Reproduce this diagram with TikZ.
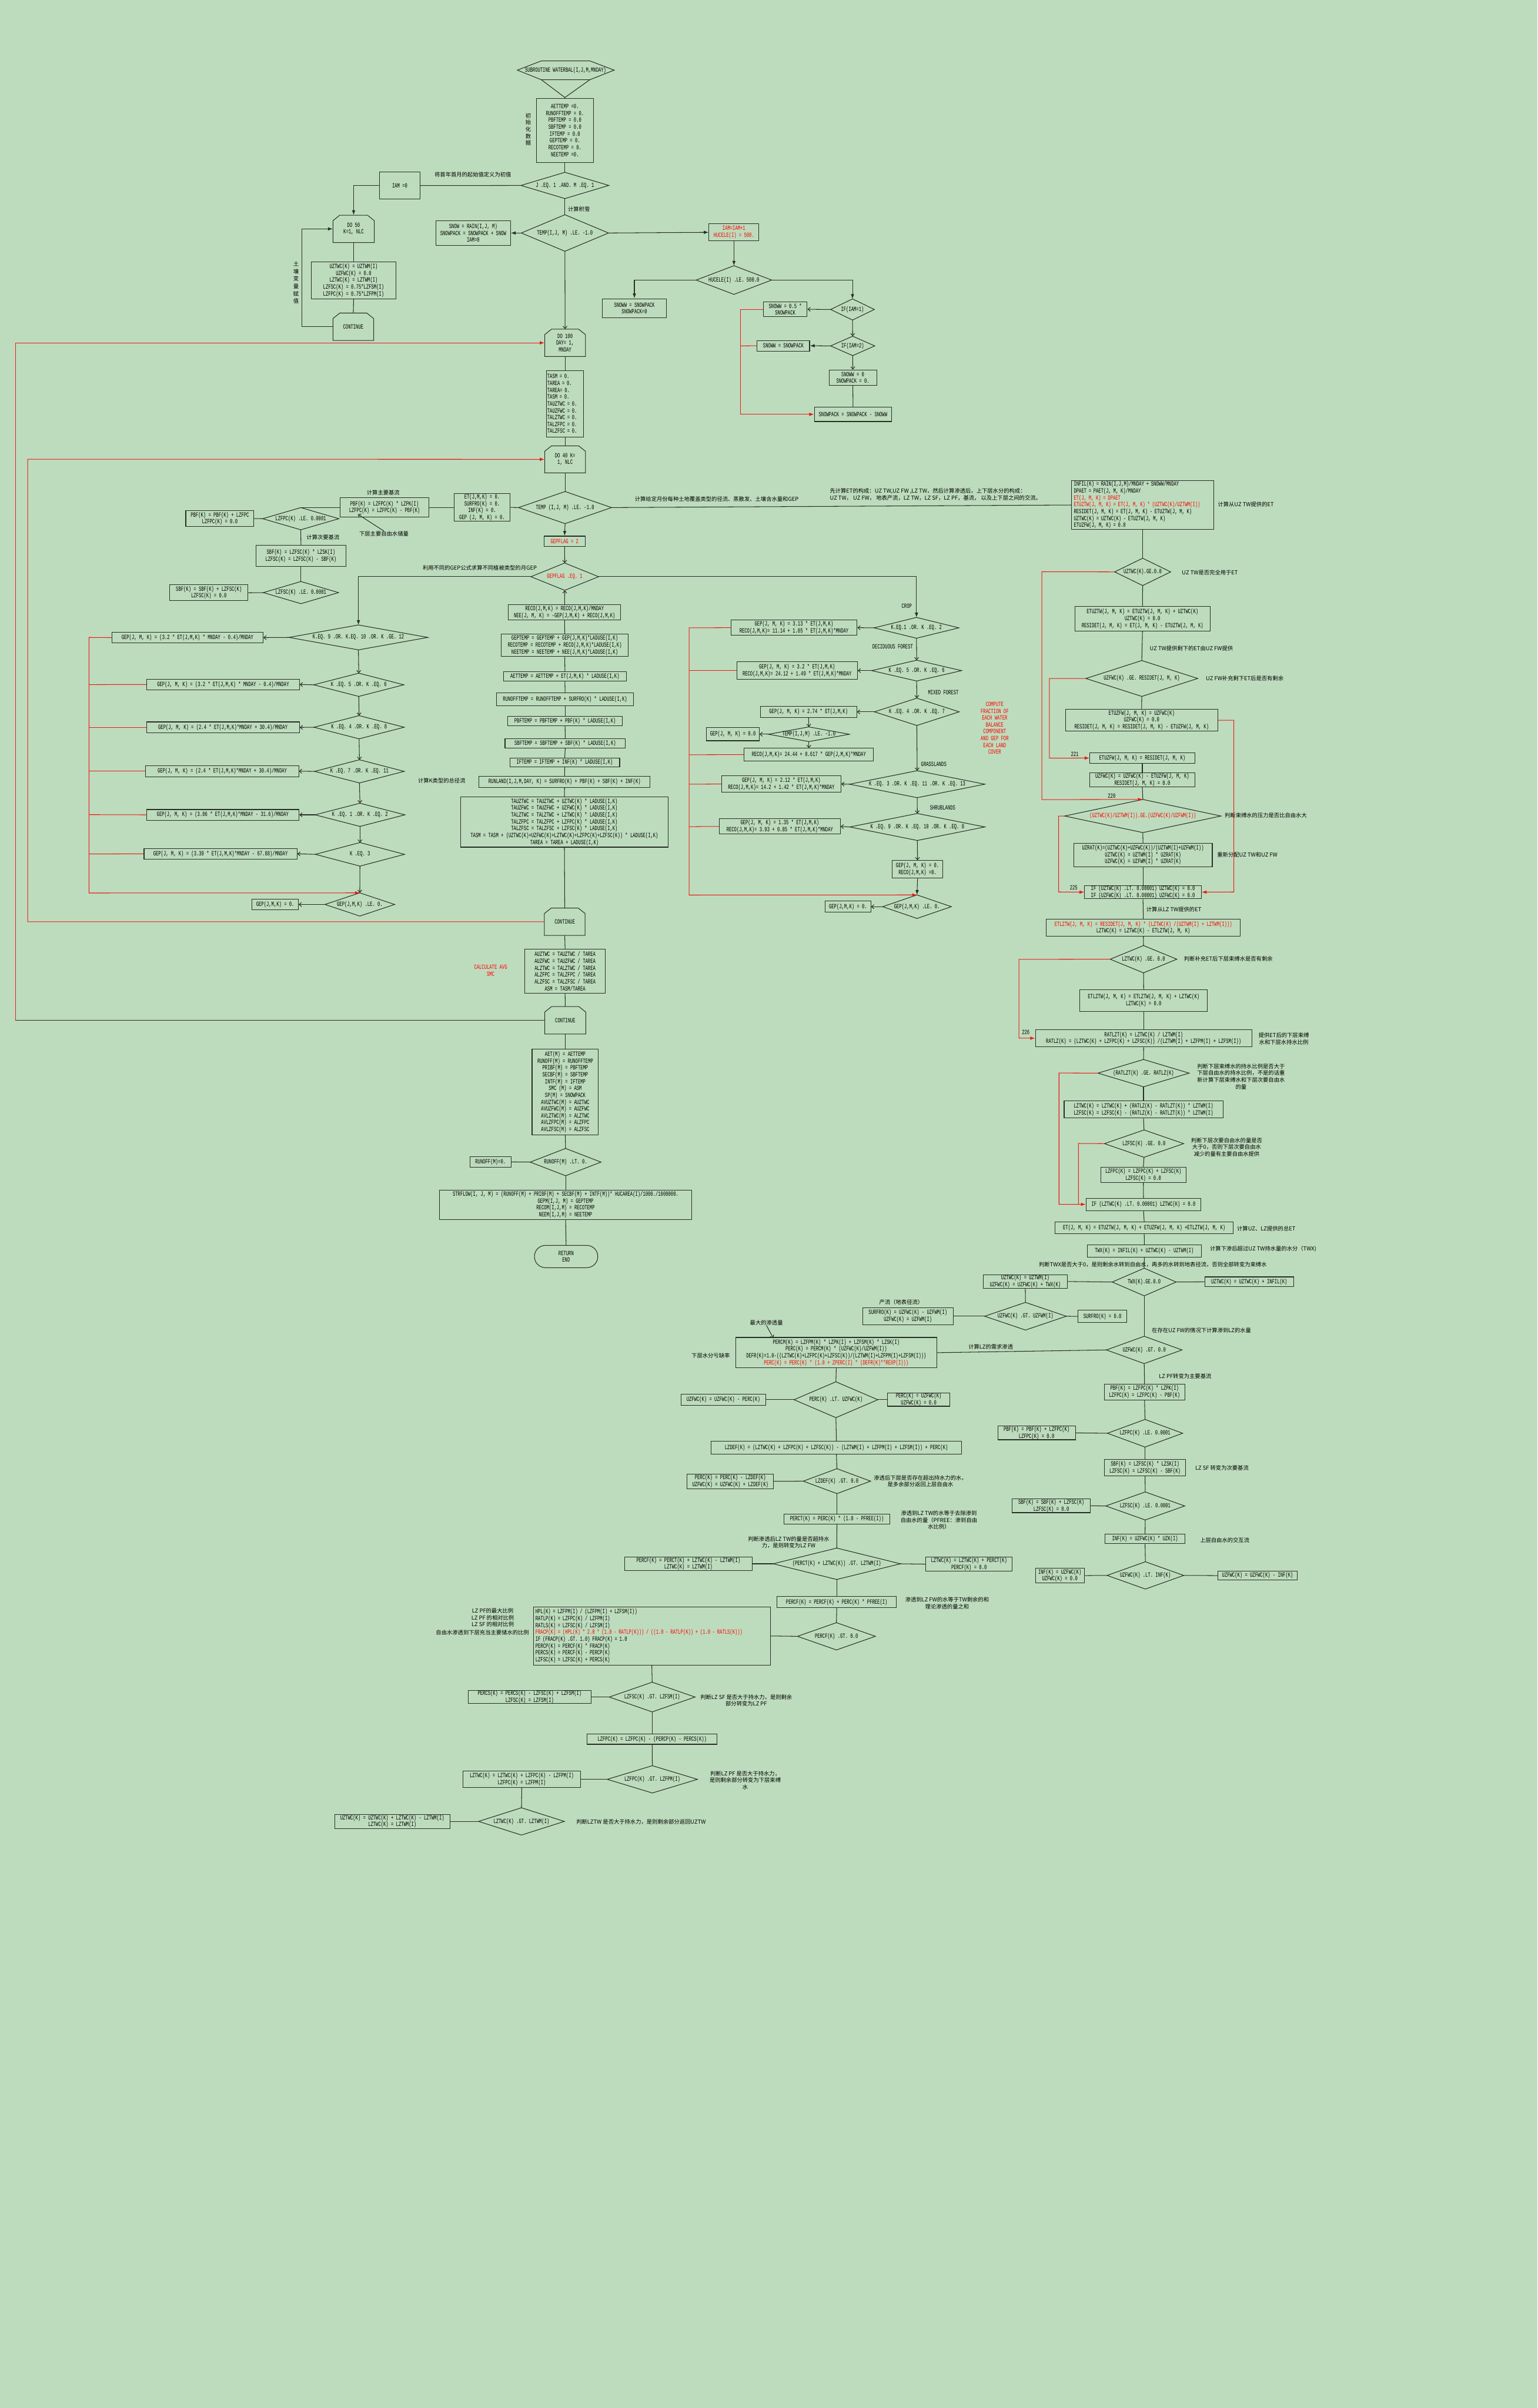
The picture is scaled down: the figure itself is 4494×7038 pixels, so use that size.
\documentclass[tikz,border=0pt]{standalone}
\usepackage{fontspec}
\newfontfamily\cmono[FakeStretch=0.65]{Liberation Mono}
\newfontfamily\cjk{Noto Sans CJK SC}
\usetikzlibrary{arrows.meta}
\definecolor{bg}{RGB}{189,220,189}
\definecolor{lc}{RGB}{40,45,40}
\definecolor{rc}{RGB}{235,25,25}
\definecolor{rt}{RGB}{255,0,0}
\tikzset{
 bxs/.style={draw=lc,line width=0.9pt,inner sep=0pt,align=center,font=\cmono\fontsize{9.5}{10}\selectfont},
 dts/.style={inner sep=0pt,align=center,font=\cmono\fontsize{9.5}{10}\selectfont},
 shp/.style={draw=lc,line width=0.9pt},
 ln/.style={draw=lc,line width=0.9pt},
 rl/.style={draw=rc,line width=0.9pt},
 fa/.style={-{Latex[length=7pt,width=5pt]}},
 oa/.style={-{Straight Barb[length=3.5pt,width=6pt]}},
 cjkl/.style={inner sep=0pt,font=\cjk\fontsize{8}{10}\selectfont,align=center},
 monot/.style={inner sep=0pt,font=\cmono\fontsize{9.5}{10}\selectfont,align=center},
 rtxt/.style={text=rt}
}
\newcommand\mybox[7][]{\node[bxs,minimum width={(#5-#3)*0.5pt},minimum height={(#6-#4)*0.5pt},#1] (#2) at ({(#3+#5)/2},{(#4+#6)/2}) {#7};}
\newcommand\mydia[7][]{\node[dts,minimum width={(#5-#3)*0.5pt},minimum height={(#6-#4)*0.5pt},#1] (#2) at ({(#3+#5)/2},{(#4+#6)/2}) {#7};
 \draw[shp] (#2.north)--(#2.east)--(#2.south)--(#2.west)--cycle;}
\newcommand\myloop[6]{\node[dts,minimum width={(#4-#2)*0.5pt},minimum height={(#5-#3)*0.5pt}] (#1) at ({(#2+#4)/2},{(#3+#5)/2}) {#6};
 \draw[shp] (#2,#5)--(#2,#3+16)--(#2+20,#3)--(#4-20,#3)--(#4,#3+16)--(#4,#5)--cycle;}
\begin{document}
\begin{tikzpicture}[x=0.5pt,y=-0.5pt]
\useasboundingbox (0,0) rectangle (4494,7038);
\fill[bg] (0,0) rectangle (4494,7038);

% ---------- top ----------
\node[dts,minimum width=141.5pt,minimum height=27.5pt] (start) at (1653,205) {SUBROUTINE WATERBAL(I,J,M,MNDAY)};
\draw[shp] (1512,205)--(1582,178)--(1724,178)--(1795,205)--(1724,233)--(1582,233)--cycle;
\draw[shp] (1582,233)--(1651,285)--(1724,233);
\coordinate (tri) at (1651,285);
\mybox{init}{1568}{287}{1734}{475}{AETTEMP =0.\\RUNOFFTEMP = 0.\\PBFTEMP = 0.0\\SBFTEMP = 0.0\\IFTEMP = 0.0\\GEPTEMP = 0.\\RECOTEMP = 0.\\NEETEMP =0.}
\node[cjkl] (lbinit) at (1544,378) {初\\始\\化\\数\\据};
\mydia{d1}{1523}{504}{1779}{580}{J .EQ. 1 .AND. M .EQ. 1}
\mybox{iam}{1109}{503}{1228}{582}{IAM =0}
\node[cjkl] (lbfirst) at (1382,511) {将首年首月的起始值定义为初值};
\myloop{do50}{973}{629}{1094}{709}{DO 50\\K=1, NLC}
\mybox{uzinit}{910}{765}{1157}{874}{UZTWC(K) = UZTWM(I)\\UZFWC(K) = 0.0\\LZTWC(K) = LZTWM(I)\\LZFSC(K) = 0.75*LZFSM(I)\\LZFPC(K) = 0.75*LZFPM(I)}
\myloop{cont50}{973}{915}{1092}{995}{CONTINUE}
\node[cjkl,font=\cjk\fontsize{8}{10.8}\selectfont] (lbsoil) at (865,826) {土\\壤\\变\\量\\赋\\值};
\node[cjkl] (lbsnow) at (1692,611) {计算积雪};
\mydia{d2}{1524}{628}{1778}{734}{TEMP(I,J, M) .LE.  -1.0}
\mybox{snow}{1274}{645}{1492}{717}{SNOW = RAIN(I,J, M)\\SNOWPACK = SNOWPACK + SNOW\\IAM=0}
\mybox[rtxt]{iam1}{2072}{654}{2218}{704}{IAM=IAM+1\\HUCELE(I) = 500.}
\mydia{d3}{2035}{777}{2255}{860}{HUCELE(I) .LE. 500.0}
\mybox{sw1}{1760}{873}{1948}{929}{SNOWW = SNOWPACK\\SNOWPACK=0}
\mydia{d4}{2428}{874}{2555}{935}{IF(IAM=1)}
\mybox{sw2}{2231}{883}{2359}{925}{SNOWW = 0.5 *\\SNOWPACK}
\mydia{d5}{2428}{983}{2556}{1039}{IF(IAM=2)}
\mybox{sw3}{2213}{995}{2366}{1026}{SNOWW = SNOWPACK}
\mybox{sw4}{2423}{1081}{2562}{1126}{SNOWW = 0\\SNOWPACK = 0.}
\mybox{sw5}{2380}{1190}{2606}{1232}{SNOWPACK = SNOWPACK - SNOWW}

\myloop{do100}{1592}{962}{1711}{1042}{DO 100\\DAY= 1,\\MNDAY}
\mybox[align=left,text width=52pt]{tasm}{1597}{1083}{1706}{1277}{TASM = 0.\\TAREA = 0.\\TAREA= 0.\\TASM = 0.\\TAUZTWC = 0.\\TAUZFWC = 0.\\TALZTWC = 0.\\TALZFPC = 0.\\TALZFSC = 0.}
\myloop{do40}{1592}{1303}{1711}{1382}{DO 40 K=\\1, NLC}
\mydia{d6}{1516}{1437}{1787}{1530}{TEMP (I,J, M) .LE. -1.0}
\mybox{et0}{1327}{1443}{1491}{1523}{ET(J,M,K) = 0.\\SURFRO(K) = 0.\\INF(K) = 0.\\GEP (J, M, K) = 0.}
\mybox{pbf1}{994}{1455}{1254}{1511}{PBF(K) = LZFPC(K) * LZPK(I)\\LZFPC(K) = LZFPC(K) - PBF(K)}
\node[cjkl] (lbpbf) at (1120,1440) {计算主要基流};
\mydia{d7}{768}{1484}{990}{1548}{LZFPC(K) .LE. 0.0001}
\mybox{pbf2}{543}{1493}{742}{1538}{PBF(K) = PBF(K) + LZFPC\\LZFPC(K) = 0.0}
\node[cjkl] (lblzfp) at (1122,1560) {下层主要自由水储量};
\coordinate (alzfp) at (1046,1503);
\node[cjkl] (lbsbf) at (944,1571) {计算次要基流};
\mybox{sbf1}{748}{1594}{1011}{1656}{SBF(K) = LZFSC(K) * LZSK(I)\\LZFSC(K) = LZFSC(K) - SBF(K)}
\mydia{d8}{770}{1700}{989}{1764}{LZFSC(K) .LE. 0.0001}
\mybox{sbf2}{496}{1709}{725}{1756}{SBF(K) = SBF(K) + LZFSC(K)\\LZFSC(K) = 0.0}
\node[cjkl,anchor=west] (lbmonth) at (1855,1458) {计算给定月份每种土地覆盖类型的径流、蒸散发、土壤含水量和GEP};
\node[cjkl,anchor=west,align=left] (lbtop) at (2425,1445) {先计算ET的构成：UZ TW,UZ FW ,LZ TW，然后计算渗透后，上下层水分的构成：\\ UZ TW， UZ FW， 地表产流，LZ TW，LZ SF，LZ PF，基流， 以及上下层之间的交流。};

\mybox[rtxt]{gf2}{1590}{1567}{1710}{1597}{GEPFLAG = 2}
\mydia[rtxt]{d9}{1552}{1646}{1749}{1725}{GEPFLAG .EQ. 1}
\node[cjkl] (lbgep) at (1402,1659) {利用不同的GEP公式求算不同植被类型的月GEP};
\mybox{reco}{1486}{1768}{1814}{1812}{RECO(J,M,K) = RECO(J,M,K)/MNDAY\\NEE(J, M, K) = -GEP(J,M,K) + RECO(J,M,K)}
\mybox{gept}{1465}{1853}{1836}{1919}{GEPTEMP = GEPTEMP + GEP(J,M,K)*LADUSE(I,K)\\RECOTEMP = RECOTEMP + RECO(J,M,K)*LADUSE(I,K)\\NEETEMP = NEETEMP + NEE(J,M,K)*LADUSE(I,K)}
\mybox{aett}{1472}{1963}{1830}{1990}{AETTEMP = AETTEMP + ET(J,M,K) * LADUSE(I,K)}
\mybox{runt}{1451}{2025}{1852}{2062}{RUNOFFTEMP = RUNOFFTEMP + SURFRO(K) * LADUSE(I,K)}
\mybox{pbft}{1484}{2093}{1819}{2121}{PBFTEMP = PBFTEMP + PBF(K) * LADUSE(I,K)}
\mybox{sbft}{1476}{2159}{1828}{2186}{SBFTEMP = SBFTEMP + SBF(K) * LADUSE(I,K)}
\mybox{ift}{1490}{2216}{1811}{2241}{IFTEMP = IFTEMP + INF(K) * LADUSE(I,K)}
\mybox{runland}{1400}{2269}{1900}{2301}{RUNLAND(I,J,M,DAY, K) = SURFRO(K) + PBF(K) + SBF(K) + INF(K)}
\node[cjkl] (lbrunl) at (1291,2281) {计算K类型的总径流};
\mybox{tau}{1346}{2329}{1953}{2476}{TAUZTWC = TAUZTWC + UZTWC(K) * LADUSE(I,K)\\TAUZFWC = TAUZFWC + UZFWC(K) * LADUSE(I,K)\\TALZTWC = TALZTWC + LZTWC(K) * LADUSE(I,K)\\TALZFPC = TALZFPC + LZFPC(K) * LADUSE(I,K)\\TALZFSC = TALZFSC + LZFSC(K) * LADUSE(I,K)\\TASM = TASM + (UZTWC(K)+UZFWC(K)+LZTWC(K)+LZFPC(K)+LZFSC(K)) * LADUSE(I,K)\\TAREA = TAREA + LADUSE(I,K)}
\myloop{cont40}{1591}{2654}{1710}{2734}{CONTINUE}
\mybox{avg}{1534}{2774}{1769}{2903}{AUZTWC = TAUZTWC / TAREA\\AUZFWC = TAUZFWC / TAREA\\ALZTWC = TALZTWC / TAREA\\ALZFPC = TALZFPC / TAREA\\ALZFSC = TALZFSC / TAREA\\ASM = TASM/TAREA}
\node[monot,rtxt] (lbavg) at (1434,2837) {CALCULATE AVG\\SMC};
\myloop{cont100}{1592}{2942}{1712}{3022}{CONTINUE}
\mybox{aetm}{1555}{3067}{1749}{3317}{AET(M) = AETTEMP\\RUNOFF(M) = RUNOFFTEMP\\PRIBF(M) = PBFTEMP\\SECBF(M) = SBFTEMP\\INTF(M) = IFTEMP\\SMC (M) = ASM\\SP(M) = SNOWPACK\\AVUZTWC(M) = AUZTWC\\AVUZFWC(M) = AUZFWC\\AVLZTWC(M) = ALZTWC\\AVLZFPC(M) = ALZFPC\\AVLZFSC(M) = ALZFSC}
\mydia{d10}{1550}{3357}{1756}{3436}{RUNOFF(M) .LT. 0.}
\mybox{r0}{1373}{3380}{1494}{3412}{RUNOFF(M)=0.}
\mybox{strf}{1284}{3478}{2022}{3564}{STRFLOW(I, J, M) = (RUNOFF(M) + PRIBF(M) + SECBF(M) + INTF(M))* HUCAREA(I)/1000./1000000.\\GEPM(I,J, M) = GEPTEMP\\RECOM(I,J,M) = RECOTEMP\\NEEM(I,J,M) = NEETEMP}
\mybox[rounded corners=16pt]{ret}{1562}{3640}{1747}{3705}{RETURN\\END}

% ---------- left GEP chain ----------
\mydia{k1}{845}{1827}{1250}{1899}{K.EQ. 9 .OR. K.EQ. 10 .OR. K .GE. 12}
\mybox{g1}{327}{1848}{769}{1879}{GEP(J, M, K) = (3.2 * ET(J,M,K) * MNDAY - 0.4)/MNDAY}
\mydia{k2}{917}{1968}{1180}{2035}{K .EQ. 5 .OR. K .EQ. 6}
\mybox{g2}{429}{1985}{875}{2016}{GEP(J, M, K) = (3.2 * ET(J,M,K) * MNDAY - 0.4)/MNDAY}
\mydia{k3}{918}{2092}{1181}{2159}{K .EQ. 4 .OR. K .EQ. 8}
\mybox{g3}{428}{2110}{875}{2142}{GEP(J, M, K) = (2.4 * ET(J,M,K)*MNDAY + 30.4)/MNDAY}
\mydia{k4}{920}{2221}{1181}{2288}{K .EQ. 7 .OR. K .EQ. 11}
\mybox{g4}{426}{2238}{873}{2270}{GEP(J, M, K) = (2.4 * ET(J,M,K)*MNDAY + 30.4)/MNDAY}
\mydia{k5}{921}{2348}{1183}{2415}{K .EQ. 1 .OR. K .EQ. 2}
\mybox{g5}{428}{2366}{874}{2397}{GEP(J, M, K) = (3.06 * ET(J,M,K)*MNDAY - 31.6)/MNDAY}
\mydia{k6}{922}{2463}{1182}{2531}{K .EQ. 3}
\mybox{g6}{421}{2480}{868}{2511}{GEP(J, M, K) = (3.39 * ET(J,M,K)*MNDAY - 67.88)/MNDAY}
\mydia{k7}{950}{2610}{1153}{2677}{GEP(J,M,K) .LE. 0.}
\mybox{g7}{737}{2628}{872}{2659}{GEP(J,M,K) = 0.}

% ---------- right GEP chain ----------
\node[monot] (lbcrop) at (2650,1772) {CROP};
\mydia{v1}{2555}{1805}{2802}{1865}{K.EQ.1  .OR. K .EQ. 2}
\mybox{c1}{2136}{1812}{2505}{1857}{GEP(J, M, K) = 3.13 * ET(J,M,K)\\RECO(J,M,K)= 11.14 + 1.85 * ET(J,M,K)*MNDAY}
\node[monot] (lbdec) at (2609,1890) {DECIDUOUS FOREST};
\mydia{v2}{2548}{1930}{2810}{1990}{K .EQ. 5 .OR. K .EQ. 6}
\mybox{c2}{2153}{1934}{2506}{1986}{GEP(J, M, K) = 3.2 * ET(J,M,K)\\RECO(J,M,K)= 24.12 + 1.49 * ET(J,M,K)*MNDAY}
\node[monot] (lbmix) at (2757,2024) {MIXED FOREST};
\mydia{v3}{2556}{2041}{2803}{2120}{K .EQ. 4 .OR. K .EQ. 7}
\mybox{c3}{2222}{2064}{2504}{2097}{GEP(J, M, K) = 2.74 * ET(J,M,K)}
\mydia{v3b}{2246}{2125}{2482}{2167}{TEMP(I,J,M) .LE. -1.0}
\mybox{c3b}{2065}{2127}{2219}{2165}{GEP(J, M, K) = 0.0}
\mybox{c3c}{2175}{2187}{2553}{2224}{RECO(J,M,K)= 24.44 + 0.617 * GEP(J,M,K)*MNDAY}
\node[monot] (lbgrass) at (2729,2233) {GRASSLANDS};
\mydia{v4}{2483}{2253}{2878}{2331}{K .EQ. 3 .OR. K .EQ. 11 .OR. K .EQ. 13}
\mybox{c4}{2109}{2268}{2458}{2315}{GEP(J, M, K) = 2.12 * ET(J,M,K)\\RECO(J,M,K)= 14.2 + 1.42 * ET(J,M,K)*MNDAY}
\node[monot] (lbshrub) at (2755,2360) {SHRUBLANDS};
\mydia{v5}{2484}{2378}{2878}{2456}{K .EQ. 9 .OR. K .EQ. 10 .OR. K .EQ. 8}
\mybox{c5}{2102}{2393}{2456}{2438}{GEP(J, M, K) = 1.35 * ET(J,M,K)\\RECO(J,M,K)= 3.93 + 0.85 * ET(J,M,K)*MNDAY}
\mybox{c6}{2607}{2515}{2756}{2567}{GEP(J, M, K) = 0.\\RECO(J,M,K) =0.}
\mydia{v6}{2580}{2616}{2780}{2684}{GEP(J,M,K) .LE. 0.}
\mybox{c7}{2412}{2634}{2545}{2666}{GEP(J,M,K) = 0.}
\node[monot,rtxt] (lbcomp) at (2907,2128) {COMPUTE\\FRACTION OF\\EACH WATER\\BALANCE\\COMPONENT\\AND GEP FOR\\EACH LAND\\COVER};

% ---------- right column ET ----------
\mybox[align=left,text width=201pt]{infil}{3132}{1404}{3547}{1548}{INFIL(K) = RAIN(I,J,M)/MNDAY + SNOWW/MNDAY\\DPAET = PAET(J, M, K)/MNDAY\\\textcolor{rt}{ET(J, M, K) = DPAET}\\\textcolor{rt}{ETUZTW(J, M, K) = ET(J, M, K) * (UZTWC(K)/UZTWM(I))}\\RESIDET(J, M, K) = ET(J, M, K) - ETUZTW(J, M, K)\\UZTWC(K) = UZTWC(K) - ETUZTW(J, M, K)\\ETUZFW(J, M, K) = 0.0}
\node[cjkl,anchor=west] (lbe0) at (3559,1475) {计算从UZ TW提供的ET};
\mydia{e1}{3258}{1632}{3421}{1711}{UZTWC(K).GE.0.0}
\node[cjkl,anchor=west] (lbe1) at (3454,1673) {UZ TW是否完全用于ET};
\mybox{e2}{3141}{1773}{3537}{1844}{ETUZTW(J, M, K) = ETUZTW(J, M, K) + UZTWC(K)\\UZTWC(K) = 0.0\\RESIDET(J, M, K) = ET(J, M, K) - ETUZTW(J, M, K)}
\node[cjkl,anchor=west] (lbe2) at (3360,1895) {UZ TW提供剩下的ET由UZ FW提供};
\mydia{e3}{3174}{1931}{3500}{2035}{UZFWC(K) .GE. RESIDET(J, M, K)}
\node[cjkl,anchor=west] (lbe3) at (3524,1983) {UZ FW补充剩下ET后是否有剩余};
\mybox{e4}{3114}{2073}{3559}{2137}{ETUZFW(J, M, K) = UZFWC(K)\\UZFWC(K) = 0.0\\RESIDET(J, M, K) = RESIDET(J, M, K) - ETUZFW(J, M, K)}
\mybox{e5}{3185}{2200}{3492}{2231}{ETUZFW(J, M, K) = RESIDET(J, M, K)}
\node[monot] (n221) at (3141,2205) {221};
\mybox{e6}{3185}{2258}{3492}{2300}{UZFWC(K) = UZFWC(K) - ETUZFW(J, M, K)\\RESIDET(J, M, K) = 0.0}
\mydia[rtxt]{e7}{3112}{2337}{3568}{2433}{(UZTWC(K)/UZTWM(I)).GE.(UZFWC(K)/UZFWM(I))}
\node[monot] (n220) at (3249,2327) {220};
\node[cjkl,anchor=west] (lbe7) at (3579,2384) {判断束缚水的压力是否比自由水大};
\mybox{e8}{3138}{2465}{3543}{2533}{UZRAT(K)=(UZTWC(K)+UZFWC(K))/(UZTWM(I)+UZFWM(I))\\UZTWC(K) = UZTWM(I) * UZRAT(K)\\UZFWC(K) = UZFWM(I) * UZRAT(K)}
\node[cjkl,anchor=west] (lbe8) at (3557,2498) {重新分配UZ TW和UZ FW};
\mybox{e9}{3170}{2588}{3511}{2627}{IF (UZTWC(K) .LT. 0.00001) UZTWC(K) = 0.0\\IF (UZFWC(K) .LT. 0.00001) UZFWC(K) = 0.0}
\node[monot] (n225) at (3138,2594) {225};
\node[cjkl,anchor=west] (lbe9) at (3350,2658) {计算从LZ TW提供的ET};
\mybox{e10}{3058}{2687}{3625}{2736}{\textcolor{rt}{ETLZTW(J, M, K) = RESIDET(J, M, K) * (LZTWC(K) /(UZTWM(I) + LZTWM(I)))}\\LZTWC(K) = LZTWC(K) - ETLZTW(J, M, K)}
\mydia{e11}{3245}{2764}{3439}{2843}{LZTWC(K) .GE. 0.0}
\node[cjkl,anchor=west] (lbe11) at (3460,2802) {判断补充ET后下层束缚水是否有剩余};
\mybox{e12}{3156}{2892}{3529}{2956}{ETLZTW(J, M, K) = ETLZTW(J, M, K) + LZTWC(K)\\LZTWC(K) = 0.0}
\mybox{e13}{3026}{3009}{3659}{3060}{RATLZT(K) = LZTWC(K) / LZTWM(I)\\RATLZ(K) = (LZTWC(K) + LZFPC(K) + LZFSC(K)) /(LZTWM(I) + LZFPM(I) + LZFSM(I))}
\node[monot] (n226) at (2998,3017) {226};
\node[cjkl] (lbe13) at (3752,3036) {提供ET后的下层束缚\\水和下层水持水比例};
\mydia{e14}{3209}{3097}{3475}{3176}{(RATLZT(K) .GE. RATLZ(K)}
\node[cjkl] (lbe14) at (3627,3146) {判断下层束缚水的持水比例是否大于\\下层自由水的持水比例，不是的话重\\新计算下层束缚水和下层次要自由水\\的量};
\mybox{e15}{3110}{3218}{3574}{3268}{LZTWC(K) = LZTWC(K) + (RATLZ(K) - RATLZT(K)) * LZTWM(I)\\LZFSC(K) = LZFSC(K) - (RATLZ(K) - RATLZT(K)) * LZTWM(I)}
\mydia{e16}{3228}{3303}{3459}{3382}{LZFSC(K) .GE. 0.0}
\node[cjkl] (lbe16) at (3585,3353) {判断下层次要自由水的量是否\\大于0，否则下层次要自由水\\减少的量有主要自由水提供};
\mybox{e17}{3217}{3412}{3466}{3456}{LZFPC(K) = LZFPC(K) + LZFSC(K)\\LZFSC(K) = 0.0}
\mybox{e18}{3174}{3502}{3510}{3538}{IF (LZTWC(K) .LT. 0.00001) LZTWC(K) = 0.0}
\mybox{e19}{3084}{3572}{3604}{3605}{ET(J, M, K) = ETUZTW(J, M, K) + ETUZFW(J, M, K) +ETLZTW(J, M, K)}
\node[cjkl,anchor=west] (lbe19) at (3615,3591) {计算UZ、LZ提供的总ET};
\mybox{e20}{3178}{3638}{3511}{3674}{TWX(K) = INFIL(K) + UZTWC(K) - UZTWM(I)}
\node[cjkl,anchor=west] (lbe20) at (3536,3651) {计算下渗后超过UZ TW持水量的水分（TWX)};
\node[cjkl,anchor=west] (lbtwx) at (3036,3696) {判断TWX是否大于0，是则剩余水转到自由水，再多的水转到地表径流，否则全部转变为束缚水};

% ---------- TWX and lower right ----------
\mydia{t1}{3251}{3707}{3437}{3787}{TWX(K).GE.0.0}
\mybox{t2}{3521}{3732}{3781}{3761}{UZTWC(K) = UZTWC(K) + INFIL(K)}
\mybox{t3}{2874}{3726}{3119}{3765}{UZTWC(K) = UZTWM(I)\\UZFWC(K) = UZFWC(K) + TWX(K)}
\node[cjkl] (lbsurf) at (2634,3805) {产流（地表径流）};
\mydia{t4}{2878}{3807}{3116}{3887}{UZFWC(K) .GT. UZFWM(I)}
\mybox{t5}{2521}{3822}{2786}{3872}{SURFRO(K) = UZFWC(K) - UZFWM(I)\\UZFWC(K) = UZFWM(I)}
\mybox{t6}{3151}{3829}{3293}{3866}{SURFRO(K) = 0.0}
\node[cjkl,anchor=west] (lbt7) at (3366,3888) {在存在UZ FW的情况下计算渗到LZ的水量};
\mydia{t7}{3234}{3906}{3454}{3985}{UZFWC(K) .GT. 0.0}
\node[cjkl,anchor=west] (lbdem) at (2830,3937) {计算LZ的需求渗透};
\node[cjkl,anchor=west] (lbt8) at (3387,4023) {LZ PF转变为主要基流};
\mybox{t8}{3227}{4045}{3463}{4092}{PBF(K) = LZFPC(K) * LZPK(I)\\LZFPC(K) = LZFPC(K) - PBF(K)}
\mydia{t9}{3237}{4149}{3456}{4229}{LZFPC(K) .LE. 0.0001}
\mybox{t10}{2916}{4168}{3143}{4208}{PBF(K) = PBF(K) + LZFPC(K)\\LZFPC(K) = 0.0}
\mybox{t11}{3228}{4265}{3465}{4314}{SBF(K) = LZFSC(K) * LZSK(I)\\LZFSC(K) = LZFSC(K) - SBF(K)}
\node[cjkl,anchor=west] (lbt11) at (3493,4290) {LZ SF 转变为次要基流};
\mydia{t12}{3232}{4361}{3462}{4442}{LZFSC(K) .LE. 0.0001}
\mybox{t13}{2958}{4381}{3187}{4421}{SBF(K) = SBF(K) + LZFSC(K)\\LZFSC(K) = 0.0}
\mybox{t14}{3230}{4484}{3463}{4511}{INF(K) = UZFWC(K) * UZK(I)}
\node[cjkl,anchor=west] (lbt14) at (3507,4501) {上层自由水的交互流};
\mydia{t15}{3236}{4565}{3459}{4644}{UZFWC(K) .LT. INF(K)}
\mybox{t16}{3026}{4584}{3169}{4626}{INF(K) = UZFWC(K)\\UZFWC(K) = 0.0}
\mybox{t17}{3560}{4592}{3791}{4618}{UZFWC(K) = UZFWC(K) - INF(K)}

% ---------- percolation chain ----------
\node[cjkl] (lbmax) at (2240,3866) {最大的渗透量};
\coordinate (amax) at (2260,3911);
\mybox{p1}{2150}{3909}{2738}{3998}{PERCM(K) = LZFPM(K) * LZPK(I) + LZFSM(K) * LZSK(I)\\PERC(K) = PERCM(K) * (UZFWC(K)/UZFWM(I))\\DEFR(K)=1.0-((LZTWC(K)+LZFPC(K)+LZFSC(K))/(LZTWM(I)+LZFPM(I)+LZFSM(I)))\\\textcolor{rt}{PERC(K) = PERC(K) * (1.0 + ZPERC(I) * (DEFR(K)**REXP(I)))}}
\node[cjkl] (lbdefr) at (2077,3963) {下层水分亏缺率};
\mydia{p2}{2321}{4039}{2565}{4143}{PERC(K) .LT. UZFWC(K)}
\mybox{p3}{1990}{4074}{2238}{4108}{UZFWC(K) = UZFWC(K) - PERC(K)}
\mybox{p4}{2594}{4072}{2776}{4110}{PERC(K) = UZFWC(K)\\UZFWC(K) = 0.0}
\mybox{p5}{2079}{4213}{2810}{4250}{LZDEF(K) = (LZTWC(K) + LZFPC(K) + LZFSC(K)) - (LZTWM(I) + LZFPM(I) + LZFSM(I)) + PERC(K)}
\mydia{p6}{2348}{4293}{2544}{4365}{LZDEF(K) .GT. 0.0}
\mybox{p7}{2008}{4308}{2261}{4351}{PERC(K) = PERC(K) - LZDEF(K)\\UZFWC(K) = UZFWC(K) + LZDEF(K)}
\node[cjkl] (lbp6) at (2690,4329) {渗透后下层是否存在超出持水力的水，\\是多余部分返回上层自由水};
\mybox{p8}{2292}{4425}{2600}{4454}{PERCT(K) = PERC(K) * (1.0 - PFREE(I))}
\node[cjkl] (lbp8) at (2744,4443) {渗透到LZ TW的水等于去除渗到\\自由水的量（PFREE：渗到自由\\水比例）};
\node[cjkl] (lbp9) at (2305,4508) {判断渗透后LZ TW的量是否超持水\\力，是则转变为LZ FW};
\mydia{p9}{2260}{4525}{2631}{4616}{(PERCT(K) + LZTWC(K)) .GT. LZTWM(I)}
\mybox{p10}{1825}{4551}{2199}{4590}{PERCF(K) = PERCT(K) + LZTWC(K) - LZTWM(I)\\LZTWC(K) = LZTWM(I)}
\mybox{p11}{2706}{4551}{2958}{4592}{LZTWC(K) = LZTWC(K) + PERCT(K)\\PERCF(K) = 0.0}
\mybox{p12}{2271}{4666}{2620}{4699}{PERCF(K) = PERCF(K) + PERC(K) * PFREE(I)}
\node[cjkl] (lbp12) at (2768,4686) {渗透到LZ FW的水等于TW剩余的和\\理论渗透的量之和};
\mydia{p13}{2331}{4743}{2558}{4822}{PERCF(K) .GT. 0.0}
\mybox[align=left,text width=340pt]{p14}{1559}{4696}{2251}{4867}{HPL(K) = LZFPM(I) / (LZFPM(I) + LZFSM(I))\\RATLP(K) = LZFPC(K) / LZFPM(I)\\RATLS(K) = LZFSC(K) / LZFSM(I)\\\textcolor{rt}{FRACP(K) = (HPL(K) * 2.0 * (1.0 - RATLP(K))) / ((1.0 - RATLP(K)) + (1.0 - RATLS(K)))}\\IF (FRACP(K) .GT. 1.0) FRACP(K) = 1.0\\PERCP(K) = PERCF(K) * FRACP(K)\\PERCS(K) = PERCF(K) - PERCP(K)\\LZFSC(K) = LZFSC(K) + PERCS(K)}
\node[cjkl] (lbh1) at (1440,4708) {LZ PF的最大比例};
\node[cjkl] (lbh2) at (1440,4728) {LZ PF 的相对比例};
\node[cjkl] (lbh3) at (1440,4748) {LZ SF 的相对比例};
\node[cjkl] (lbh4) at (1410,4771) {自由水渗透到下层充当主要储水的比例};
\mydia{p15}{1781}{4917}{2031}{5003}{LZFSC(K) .GT. LZFSM(I)}
\mybox{p16}{1369}{4941}{1727}{4979}{PERCS(K) = PERCS(K) - LZFSC(K) + LZFSM(I)\\LZFSC(K) = LZFSM(I)}
\node[cjkl] (lbp15) at (2181,4970) {判断LZ SF 是否大于持水力，是则剩余\\部分转变为LZ PF};
\mybox{p17}{1716}{5068}{2096}{5098}{LZFPC(K) = LZFPC(K) - (PERCP(K) - PERCS(K))}
\mydia{p18}{1775}{5161}{2038}{5240}{LZFPC(K) .GT. LZFPM(I)}
\mybox{p19}{1353}{5177}{1697}{5224}{LZTWC(K) = LZTWC(K) + LZFPC(K) - LZFPM(I)\\LZFPC(K) = LZFPM(I)}
\node[cjkl] (lbp18) at (2178,5203) {判断LZ PF 是否大于持水力，\\是则剩余部分转变为下层束缚\\水};
\mydia{p20}{1399}{5284}{1649}{5363}{LZTWC(K) .GT. LZTWM(I)}
\mybox{p21}{978}{5303}{1315}{5344}{UZTWC(K) = UZTWC(K) + LZTWC(K) - LZTWM(I)\\LZTWC(K) = LZTWM(I)}
\node[cjkl,anchor=west] (lbp20) at (1684,5325) {判断LZTW 是否大于持水力，是则剩余部分返回UZTW};

% ================= connectors =================
\draw[ln] (tri) -- (init.north);
\draw[ln] (init.south) -- (d1.north);
\draw[ln] (d1.west) -- (iam.east);
\draw[ln,fa] (iam.west) -| (do50.north);
\draw[ln] (do50.south) -- (uzinit.north);
\draw[ln] (uzinit.south) -- (cont50.north);
\draw[ln,fa] (cont50.west) -- (882,955) -- (882,669) -- (do50.west);
\draw[ln] (d1.south) -- (d2.north);
\draw[ln,fa] (d2.west) -- (snow.east);
\draw[ln,fa] (d2.east) -- (iam1.west);
\draw[ln,fa] (iam1.south) -- (d3.north);
\draw[ln,fa] (d3.west) -| (sw1.north);
\draw[ln,fa] (d3.east) -| (d4.north);
\draw[ln,oa] (d4.west) -- (sw2.east);
\draw[ln,oa] (d4.south) -- (d5.north);
\draw[ln,fa] (d5.west) -- (sw3.east);
\draw[ln,oa] (d5.south) -- (sw4.north);
\draw[ln] (sw4.south) -- (sw5.north);
\draw[rl,fa] (sw2.west) -- (2164,904) -- (2164,1211) -- (sw5.west);
\draw[rl] (sw3.west) -- (2164,1011);
\draw[ln,oa] (d2.south) -- (do100.north);
\draw[ln] (do100.south) -- (tasm.north);
\draw[ln] (tasm.south) -- (do40.north);
\draw[ln] (do40.south) -- (d6.north);
\draw[ln] (d6.west) -- (et0.east);
\draw[ln] (et0.west) -- (pbf1.east);
\draw[ln] (pbf1.west) -| (d7.north);
\draw[ln] (d7.west) -- (pbf2.east);
\draw[ln] (d7.south) -- (sbf1.north);
\draw[ln] (sbf1.south) -- (d8.north);
\draw[ln] (d8.west) -- (sbf2.east);
\draw[ln,oa] (lblzfp.north) -- (alzfp);
\draw[ln] (d6.east) -- (infil.west);
\draw[ln,fa] (d6.south) -- (gf2.north);
\draw[ln,oa] (gf2.south) -- (d9.north);
\draw[ln,oa] (reco.north) -- (d9.south);
\draw[ln] (reco.south) -- (gept.north);
\draw[ln] (gept.south) -- (aett.north);
\draw[ln] (aett.south) -- (runt.north);
\draw[ln] (runt.south) -- (pbft.north);
\draw[ln] (pbft.south) -- (sbft.north);
\draw[ln] (sbft.south) -- (ift.north);
\draw[ln] (ift.south) -- (runland.north);
\draw[ln] (runland.south) -- (tau.north);
\draw[ln] (tau.south) -- (cont40.north);
\draw[rl,fa] (cont40.west) -- (81,2694) -- (81,1342) -- (do40.west);
\draw[ln] (cont40.south) -- (avg.north);
\draw[ln] (avg.south) -- (cont100.north);
\draw[ln] (cont100.west) -- (45,2982);
\draw[rl,fa] (45,2982) -- (45,1002) -- (do100.west);
\draw[ln] (cont100.south) -- (aetm.north);
\draw[ln] (aetm.south) -- (d10.north);
\draw[ln] (d10.west) -- (r0.east);
\draw[ln] (d10.south) -- (strf.north);
\draw[ln] (strf.south) -- (ret.north);
% left chain
\draw[ln,fa] (d9.west) -| (k1.north);
\draw[ln,oa] (k1.west) -- (g1.east);
\draw[ln,oa] (k1.south) -- (k2.north);
\draw[ln,oa] (k2.west) -- (g2.east);
\draw[ln,oa] (k2.south) -- (k3.north);
\draw[ln,oa] (k3.west) -- (g3.east);
\draw[ln,oa] (k3.south) -- (k4.north);
\draw[ln,oa] (k4.west) -- (g4.east);
\draw[ln,oa] (k4.south) -- (k5.north);
\draw[ln,oa] (k5.west) -- (g5.east);
\draw[ln,oa] (k5.south) -- (k6.north);
\draw[ln,oa] (k6.west) -- (g6.east);
\draw[ln,oa] (k6.south) -- (k7.north);
\draw[ln,oa] (k7.west) -- (g7.east);
\draw[rl,fa] (g1.west) -- (260,1863) -- (260,2610) -- (k7.north);
\draw[rl] (g2.west) -- (260,2001);
\draw[rl] (g3.west) -- (260,2126);
\draw[rl] (g4.west) -- (260,2254);
\draw[rl] (g5.west) -- (260,2381);
\draw[rl] (g6.west) -- (260,2496);
% right chain
\draw[ln,fa] (d9.east) -| (v1.north);
\draw[ln,oa] (v1.west) -- (c1.east);
\draw[ln,oa] (v1.south) -- (v2.north);
\draw[ln,oa] (v2.west) -- (c2.east);
\draw[ln,oa] (v2.south) -- (v3.north);
\draw[ln,oa] (v3.west) -- (c3.east);
\draw[ln,oa] (c3.south) -- (v3b.north);
\draw[ln,oa] (v3b.west) -- (c3b.east);
\draw[ln,oa] (v3b.south) -- (c3c.north);
\draw[ln,oa] (v3.south) -- (v4.north);
\draw[ln,oa] (v4.west) -- (c4.east);
\draw[ln,oa] (v4.south) -- (v5.north);
\draw[ln,oa] (v5.west) -- (c5.east);
\draw[ln,oa] (v5.south) -- (c6.north);
\draw[ln,fa] (c6.south) -- (v6.north);
\draw[ln,oa] (v6.west) -- (c7.east);
\draw[rl,fa] (c1.west) -- (2014,1835) -- (2014,2616) -- (v6.north);
\draw[rl] (c2.west) -- (2014,1960);
\draw[rl] (c3c.west) -- (2014,2206);
\draw[rl] (c4.west) -- (2014,2292);
\draw[rl] (c5.west) -- (2014,2416);
% right ET column
\draw[ln] (infil.south) -- (e1.north);
\draw[ln] (e1.south) -- (e2.north);
\draw[ln] (e2.south) -- (e3.north);
\draw[ln] (e3.south) -- (e4.north);
\draw[ln] (e5.south) -- (e6.north);
\draw[ln] (e6.south) -- (e7.north);
\draw[rl,fa] (e3.west) -- (3067,1983) -- (3067,2216) -- (e5.west);
\draw[rl,fa] (e1.west) -- (3045,1671) -- (3045,2337) -- (e7.north);
\draw[ln] (e7.south) -- (e8.north);
\draw[ln] (e8.south) -- (e9.north);
\draw[rl,fa] (e7.west) -- (3094,2385) -- (3094,2607) -- (e9.west);
\draw[rl,fa] (e4.east) -- (3606,2105) -- (3606,2607) -- (e9.east);
\draw[ln] (e9.south) -- (e10.north);
\draw[ln] (e10.south) -- (e11.north);
\draw[ln] (e11.south) -- (e12.north);
\draw[ln] (e12.south) -- (e13.north);
\draw[rl,fa] (e11.west) -- (2978,2804) -- (2978,3034) -- (e13.west);
\draw[ln] (e13.south) -- (e14.north);
\draw[ln] (e14.south) -- (e15.north);
\draw[ln] (e15.south) -- (e16.north);
\draw[ln] (e16.south) -- (e17.north);
\draw[ln] (e17.south) -- (e18.north);
\draw[rl,fa] (e14.west) -- (3095,3136) -- (3095,3520) -- (e18.west);
\draw[rl] (e16.west) -- (3152,3342) -- (3152,3520);
\draw[ln] (e18.south) -- (e19.north);
\draw[ln] (e19.south) -- (e20.north);
\draw[ln] (e20.south) -- (t1.north);
\draw[ln] (t1.west) -- (t3.east);
\draw[ln] (t1.east) -- (t2.west);
\draw[ln] (t3.south) -- (t4.north);
\draw[ln] (t4.west) -- (t5.east);
\draw[ln] (t4.east) -- (t6.west);
\draw[ln] (t1.south) -- (t7.north);
\draw[ln] (t7.west) -- (p1.east);
\draw[ln] (t7.south) -- (t8.north);
\draw[ln] (t8.south) -- (t9.north);
\draw[ln] (t9.west) -- (t10.east);
\draw[ln] (t9.south) -- (t11.north);
\draw[ln] (t11.south) -- (t12.north);
\draw[ln] (t12.west) -- (t13.east);
\draw[ln] (t12.south) -- (t14.north);
\draw[ln] (t14.south) -- (t15.north);
\draw[ln] (t15.west) -- (t16.east);
\draw[ln] (t15.east) -- (t17.west);
% percolation
\draw[ln,oa] (lbmax.south) -- (amax);
\draw[ln] (p1.south) -- (p2.north);
\draw[ln] (p2.west) -- (p3.east);
\draw[ln] (p2.east) -- (p4.west);
\draw[ln] (p2.south) -- (p5.north);
\draw[ln] (p5.south) -- (p6.north);
\draw[ln] (p6.west) -- (p7.east);
\draw[ln] (p6.south) -- (p8.north);
\draw[ln] (p8.south) -- (p9.north);
\draw[ln] (p9.west) -- (p10.east);
\draw[ln] (p9.east) -- (p11.west);
\draw[ln] (p9.south) -- (p12.north);
\draw[ln] (p12.south) -- (p13.north);
\draw[ln] (p13.west) -- (p14.east);
\draw[ln] (p14.south) -- (p15.north);
\draw[ln] (p15.west) -- (p16.east);
\draw[ln] (p15.south) -- (p17.north);
\draw[ln] (p17.south) -- (p18.north);
\draw[ln] (p18.west) -- (p19.east);
\draw[ln] (p19.south) -- (p20.north);
\draw[ln] (p20.west) -- (p21.east);
\end{tikzpicture}
\end{document}
